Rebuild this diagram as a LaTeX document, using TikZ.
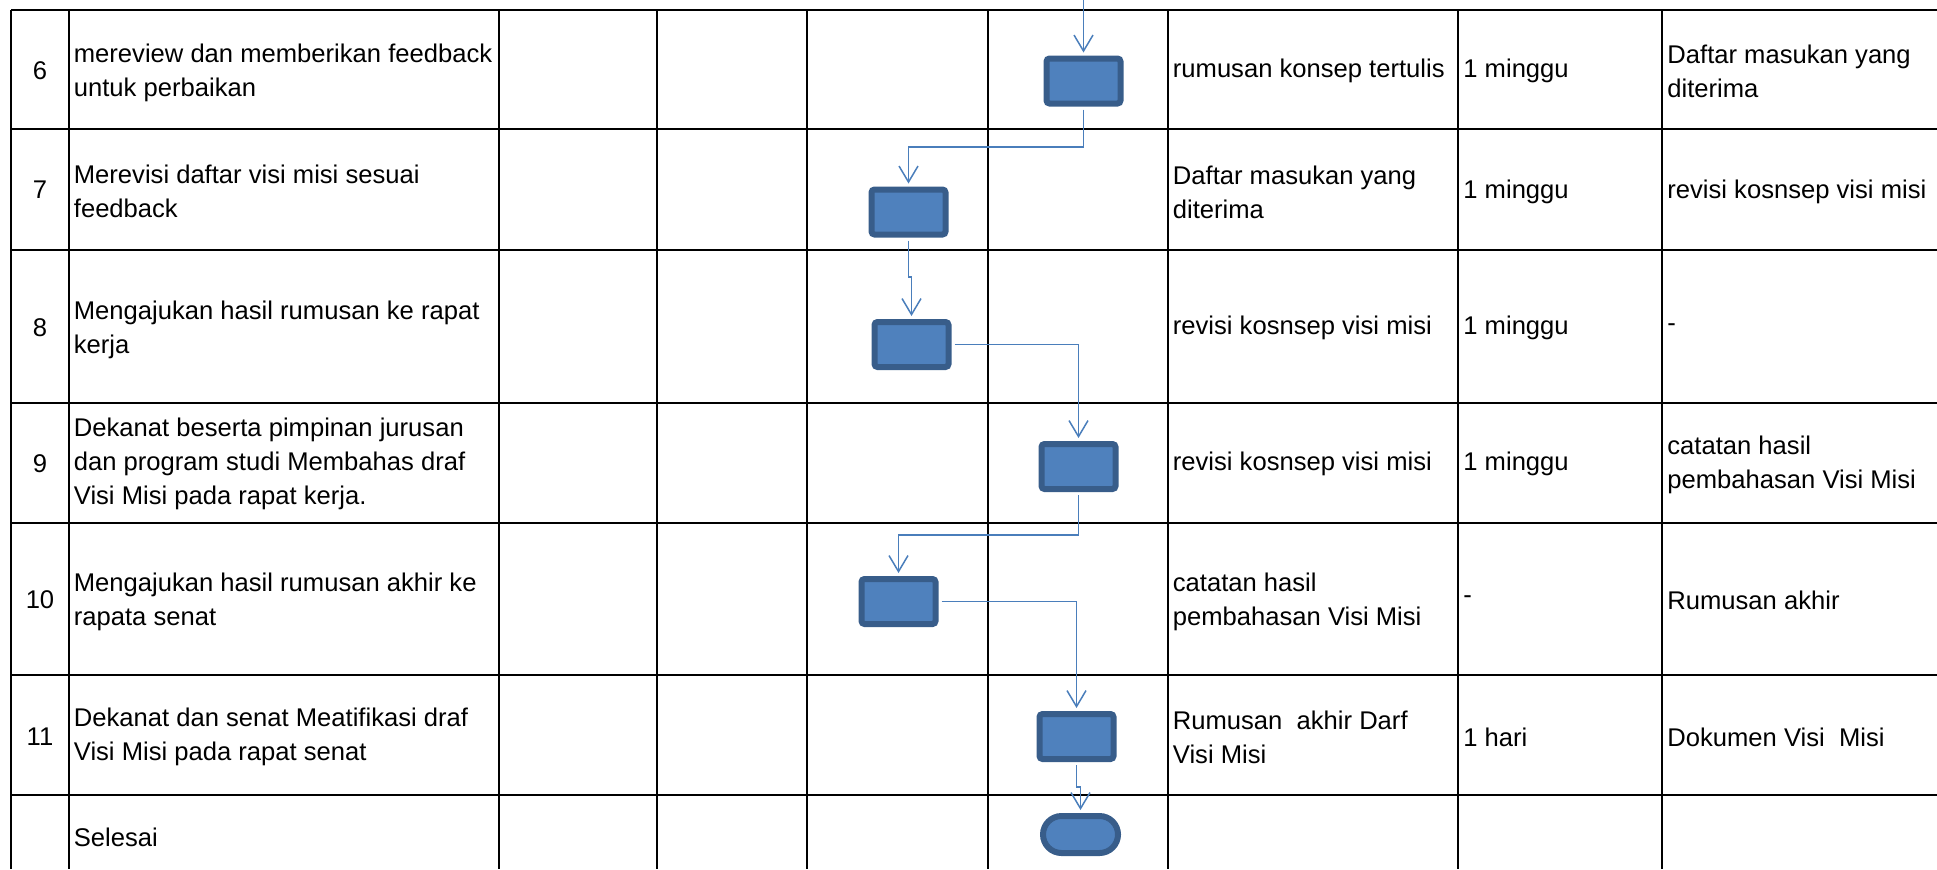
\documentclass[tikz,border=0pt]{standalone}
\usepackage{fontspec}
\setmainfont{Liberation Sans}
\usetikzlibrary{arrows.meta,shapes.misc}
\definecolor{boxfill}{HTML}{4F81BD}
\definecolor{boxline}{HTML}{385D8A}
\definecolor{conncol}{HTML}{4A7EBB}
\tikzset{
  tabline/.style={line width=0.9pt, draw=black},
  cell/.style={anchor=west, align=left, inner sep=0pt, font=\fontsize{12.8}{17}\selectfont},
  numcell/.style={anchor=center, inner sep=0pt, font=\fontsize{12.8}{17}\selectfont},
  proc/.style={draw=boxline, fill=boxfill, line width=3pt, minimum width=37pt, minimum height=22.5pt, rounded corners=1.5pt, inner sep=0pt},
  term/.style={rounded rectangle, draw=boxline, fill=boxfill, line width=3pt, minimum width=37.5pt, minimum height=18.5pt, inner sep=0pt},
  conn/.style={draw=conncol, line width=0.75pt, -{Straight Barb[length=8pt,width=9.5pt]}, shorten >=1.5pt, shorten <=1.5pt},
}
\begin{document}
\begin{tikzpicture}[x=0.5pt,y=-0.5pt]
\useasboundingbox (0,0) rectangle (1937,869);
% table lines
\foreach \xx in {11,69,499,657,807,988,1168,1458,1662}
  \draw[tabline] (\xx,10) -- (\xx,869);
\foreach \yy in {10,129,250,403,523,675,795}
  \draw[tabline] (11,\yy) -- (1937,\yy);

% row 6
\node[numcell] (n6) at (40,71) {6};
\node[cell] (d6) at (73.5,73) {mereview dan memberikan feedback\\untuk perbaikan};
\node[cell] (i6) at (1172.5,71) {rumusan konsep tertulis};
\node[cell] (w6) at (1463,71) {1 minggu};
\node[cell] (o6) at (1667,71) {Daftar masukan yang\\diterima};
% row 7
\node[numcell] (n7) at (40,190) {7};
\node[cell] (d7) at (73.5,191) {Merevisi daftar visi misi sesuai\\feedback};
\node[cell] (i7) at (1172.5,192) {Daftar masukan yang\\diterima};
\node[cell] (w7) at (1463,192) {1 minggu};
\node[cell] (o7) at (1667,192) {revisi kosnsep visi misi};
% row 8
\node[numcell] (n8) at (40,328) {8};
\node[cell] (d8) at (73.5,330) {Mengajukan hasil rumusan ke rapat\\kerja};
\node[cell] (i8) at (1172.5,328) {revisi kosnsep visi misi};
\node[cell] (w8) at (1463,328) {1 minggu};
\node[cell] (o8) at (1667,328) {-};
% row 9
\node[numcell] (n9) at (40,464) {9};
\node[cell] (d9) at (73.5,464) {Dekanat beserta pimpinan jurusan\\dan program studi Membahas draf\\Visi Misi pada rapat kerja.};
\node[cell] (i9) at (1172.5,464) {revisi kosnsep visi misi};
\node[cell] (w9) at (1463,464) {1 minggu};
\node[cell] (o9) at (1667,465) {catatan hasil\\pembahasan Visi Misi};
% row 10
\node[numcell] (n10) at (40,600) {10};
\node[cell] (d10) at (73.5,602) {Mengajukan hasil rumusan akhir ke\\rapata senat};
\node[cell] (i10) at (1172.5,602) {catatan hasil\\pembahasan Visi Misi};
\node[cell] (w10) at (1463,600) {-};
\node[cell] (o10) at (1667,600) {Rumusan akhir};
% row 11
\node[numcell] (n11) at (40,737) {11};
\node[cell] (d11) at (73.5,737) {Dekanat dan senat Meatifikasi draf\\Visi Misi pada rapat senat};
\node[cell] (i11) at (1172.5,737) {Rumusan~~akhir Darf\\Visi Misi};
\node[cell] (w11) at (1463,737) {1 hari};
\node[cell] (o11) at (1667,737) {Dokumen Visi~~Misi};
% selesai
\node[cell] (d12) at (73.5,837) {Selesai};

% flow boxes
\node[proc] (b6) at (1083.5,81) {};
\node[proc] (b7) at (908.5,212) {};
\node[proc] (b8) at (911.5,344.5) {};
\node[proc] (b9) at (1078.5,466.5) {};
\node[proc] (b10) at (898.5,601.5) {};
\node[proc] (b11) at (1076.5,736.5) {};
\node[term] (bend) at (1080.5,834.5) {};

% helper levels
\coordinate (top) at (1083.5,0);
\coordinate (y67) at (0,147);
\coordinate (y78) at (0,277);
\coordinate (y910) at (0,535);
\coordinate (y11e) at (0,787);

% connectors
\draw[conn, shorten <=0pt] (top) -- (b6.north);
\draw[conn] (b6.south) -- (b6.south |- y67) -| (b7.north);
\draw[conn] (b7.south) -- (b7.south |- y78) -- (b8.north |- y78) -- (b8.north);
\draw[conn] (b8.east) -| (b9.north);
\draw[conn] (b9.south) -- (b9.south |- y910) -| (b10.north);
\draw[conn] (b10.east) -| (b11.north);
\draw[conn] (b11.south) -- (b11.south |- y11e) -- (bend.north |- y11e) -- (bend.north);
\end{tikzpicture}
\end{document}
